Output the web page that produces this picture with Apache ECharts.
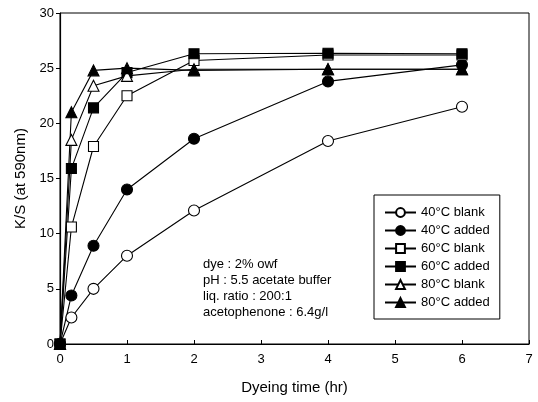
<!DOCTYPE html>
<html>
<head>
<meta charset="utf-8">
<script src="https://cdn.jsdelivr.net/npm/echarts@6/dist/echarts.min.js"></script>
<style>
  html, body { margin: 0; padding: 0; background: #fff; }
  #chart { width: 538px; height: 402px; }
</style>
</head>
<body>
<div id="chart"></div>
<script>
// dyeing time (hr)
var times = [0, 0.17, 0.5, 1, 2, 4, 6];

// K/S values
var blank40 = [0, 2.4, 5.0, 8.0, 12.1, 18.4, 21.5];
var added40 = [0, 4.4, 8.9, 14.0, 18.6, 23.8, 25.3];
var blank60 = [0, 10.6, 17.9, 22.5, 25.7, 26.2, 26.2];
var added60 = [0, 15.9, 21.4, 24.6, 26.3, 26.35, 26.3];
var blank80 = [0, 18.5, 23.4, 24.3, 24.9, 24.9, 24.9];
var added80 = [0, 21.0, 24.8, 25.0, 24.8, 24.9, 24.9];

var seriesNames = ['40°C blank', '40°C added', '60°C blank', '60°C added', '80°C blank', '80°C added'];
var noteLines = ['dye : 2% owf', 'pH : 5.5 acetate buffer', 'liq. ratio : 200:1', 'acetophenone : 6.4g/l'];

var font = 'Liberation Sans, Arial, sans-serif';

function pairs(vals) {
  var out = [];
  for (var i = 0; i < times.length; i++) out.push([times[i], vals[i]]);
  return out;
}

function mk(name, vals, symbol, filled, size) {
  return {
    name: name,
    type: 'line',
    data: pairs(vals),
    symbol: symbol,
    symbolSize: size,
    showAllSymbol: true,
    lineStyle: { color: '#000', width: 1.1 },
    itemStyle: { color: filled ? '#000' : '#fff', borderColor: '#000', borderWidth: 1.1 },
    emphasis: { disabled: true },
    animation: false
  };
}

var chart = echarts.init(document.getElementById('chart'));
chart.setOption({
  animation: false,
  grid: { left: 60, right: 9, top: 13, bottom: 58, show: true, borderColor: '#000', borderWidth: 1 },
  xAxis: {
    type: 'value', min: 0, max: 7, interval: 1,
    name: 'Dyeing time (hr)', nameLocation: 'middle', nameGap: 36,
    nameTextStyle: { fontFamily: font, fontSize: 15, color: '#000' },
    axisLine: { lineStyle: { color: '#000', width: 1.2 } },
    axisTick: { inside: true, length: 4, lineStyle: { color: '#000' } },
    axisLabel: { fontFamily: font, fontSize: 13, color: '#000', margin: 9 },
    splitLine: { show: false }
  },
  yAxis: {
    type: 'value', min: 0, max: 30, interval: 5,
    name: 'K/S (at 590nm)', nameLocation: 'middle', nameGap: 32, nameRotate: 90,
    nameTextStyle: { fontFamily: font, fontSize: 15, color: '#000' },
    axisLine: { show: true, lineStyle: { color: '#000', width: 1.2 } },
    axisTick: { show: true, length: 4, lineStyle: { color: '#000' } },
    axisLabel: { fontFamily: font, fontSize: 13, color: '#000', margin: 6 },
    splitLine: { show: false }
  },
  legend: {
    data: seriesNames,
    orient: 'vertical',
    left: 374, top: 195,
    width: 124,
    padding: [11, 10, 10, 10],
    itemGap: 5,
    itemWidth: 31, itemHeight: 11,
    borderColor: '#000', borderWidth: 1,
    textStyle: { fontFamily: font, fontSize: 13, color: '#000' },
    selectedMode: false
  },
  graphic: [{
    type: 'text',
    left: 203, top: 256,
    style: {
      text: noteLines.join('\n'),
      fontFamily: font, fontSize: 13, lineHeight: 16, fill: '#000'
    }
  }],
  series: [
    mk(seriesNames[0], blank40, 'circle', false, 11),
    mk(seriesNames[1], added40, 'circle', true, 11),
    mk(seriesNames[2], blank60, 'rect', false, 10),
    mk(seriesNames[3], added60, 'rect', true, 10),
    mk(seriesNames[4], blank80, 'triangle', false, 11),
    mk(seriesNames[5], added80, 'triangle', true, 11)
  ]
});
</script>
</body>
</html>
